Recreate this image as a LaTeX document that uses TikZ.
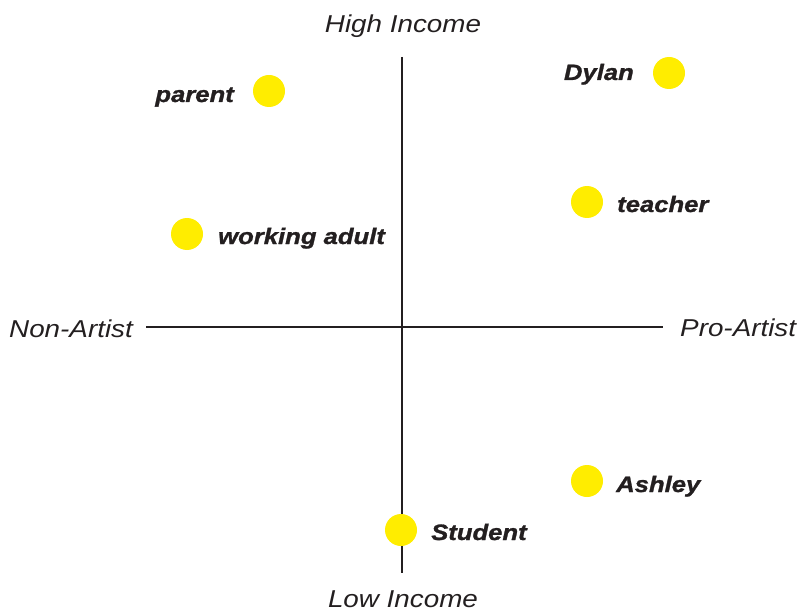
\documentclass[tikz,border=0pt]{standalone}
\usepackage{fontspec}
\setmainfont{Liberation Sans}
\newfontfamily\axisfont[FakeStretch=1.14]{Liberation Sans}
\newfontfamily\lblfont[FakeStretch=1.15,FakeBold=1.2]{Liberation Sans}
\definecolor{dotyellow}{HTML}{FFED00}
\definecolor{inkdark}{HTML}{231F20}
\begin{document}
\begin{tikzpicture}[x=1pt,y=-1pt,
  dot/.style={circle,fill=dotyellow,draw=none,minimum size=32pt,inner sep=0pt},
  lbl/.style={inner sep=0pt,text=inkdark,font=\lblfont\bfseries\itshape\fontsize{22.3}{26}\selectfont},
  axlbl/.style={inner sep=0pt,text=inkdark,font=\axisfont\itshape\fontsize{24.4}{28}\selectfont},
  axis/.style={draw=inkdark,line width=2pt}]
\useasboundingbox (0,0) rectangle (802,612);
% axes
\coordinate (top) at (402,57);
\coordinate (bot) at (402,573);
\coordinate (lft) at (146,326.5);
\coordinate (rgt) at (663,326.5);
\draw[axis] (lft) -- (rgt);
\draw[axis] (top) -- (bot);
% axis labels
\node[axlbl,anchor=base] (hi) at (403,33) {High Income};
\node[axlbl,anchor=base] (lo) at (403,607) {Low Income};
\node[axlbl,anchor=base west] (non) at (9,337) {Non-Artist};
\node[axlbl,anchor=base west] (pro) at (680,336) {Pro-Artist};
% dots
\node[dot] (parent) at (269,91) {};
\node[dot] (dylan) at (669,73) {};
\node[dot] (teacher) at (587,202) {};
\node[dot] (adult) at (187,234) {};
\node[dot] (ashley) at (587,481) {};
\node[dot] (student) at (401,530) {};
% labels
\node[lbl,anchor=base east] (parentl) at (234,102) {parent};
\node[lbl,anchor=base east] (dylanl) at (634,80) {Dylan};
\node[lbl,anchor=base west] (teacherl) at (617,212) {teacher};
\node[lbl,anchor=base west] (adultl) at (218,244) {working adult};
\node[lbl,anchor=base west] (ashleyl) at (616,492) {Ashley};
\node[lbl,anchor=base west] (studentl) at (431,540) {Student};
\end{tikzpicture}
\end{document}
